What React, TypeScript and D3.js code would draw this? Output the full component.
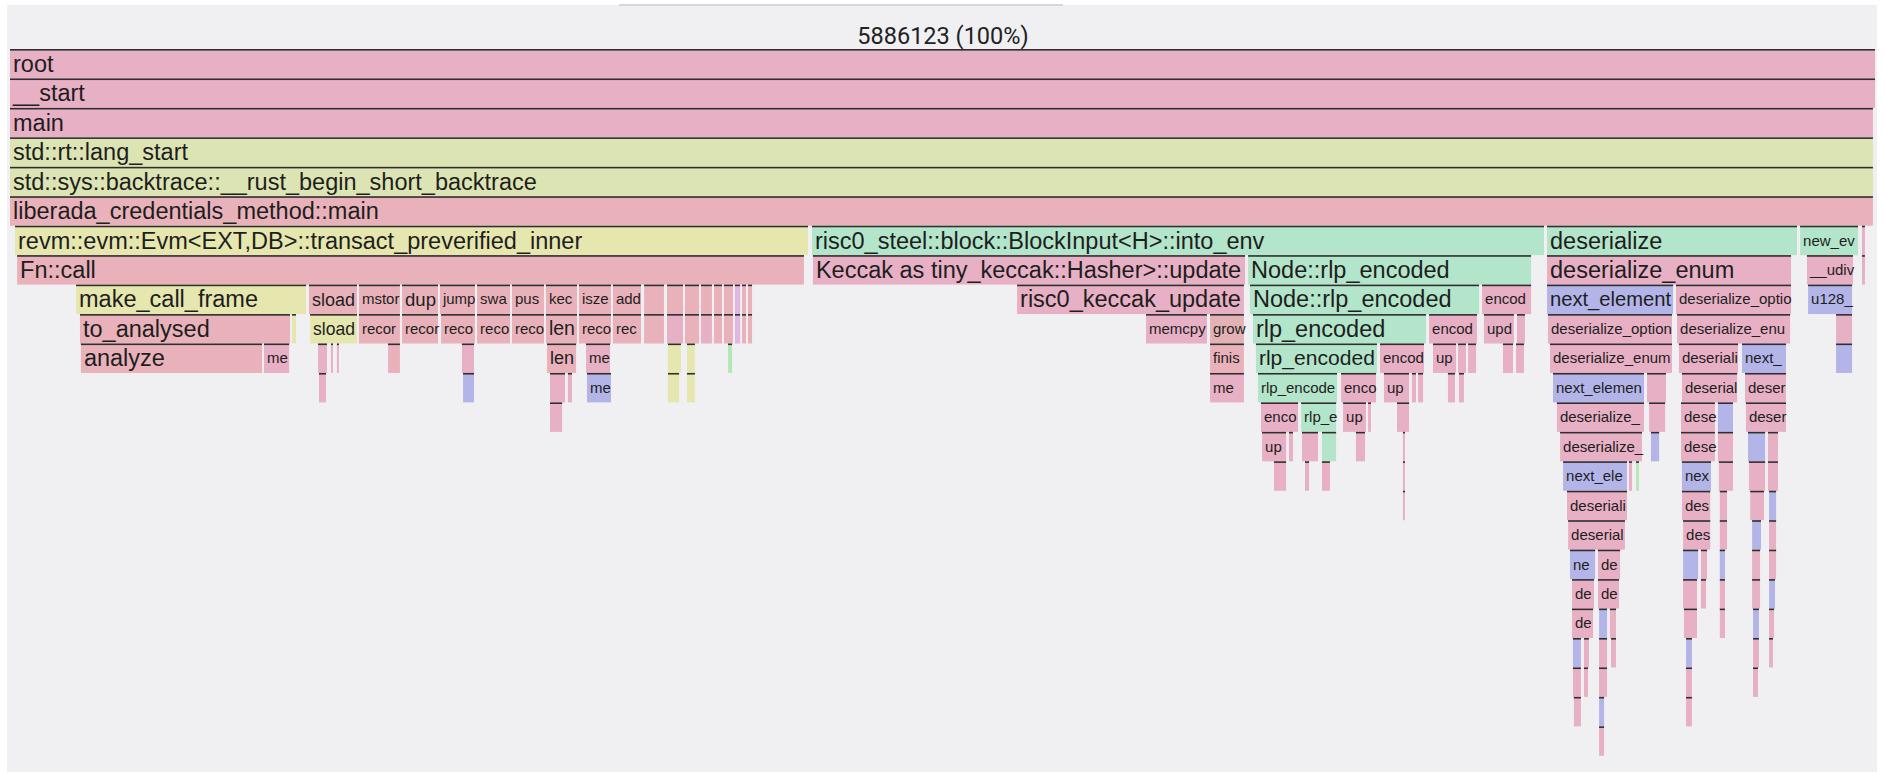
import React, {useMemo} from 'react';
import * as d3 from 'd3';

// Total samples shown in the header
const TOTAL_SAMPLES = 5886123;

// [depth, start %, end %, function name, package kind]
type Frame = [number, number, number, string, string];

const spineFrames: Frame[] = [
  [0, 0, 100, "root", "sys"],
  [1, 0, 100, "__start", "sys"],
  [2, 0, 99.89, "main", "sys"],
  [3, 0, 99.89, "std::rt::lang_start", "std"],
  [4, 0, 99.89, "std::sys::backtrace::__rust_begin_short_backtrace", "std"],
  [5, 0, 99.89, "liberada_credentials_method::main", "app"],
  [6, 0.27, 42.82, "revm::evm::Evm<EXT,DB>::transact_preverified_inner", "revm"],
  [6, 42.98, 82.26, "risc0_steel::block::BlockInput<H>::into_env", "steel"],
  [6, 82.37, 95.82, "deserialize", "steel"],
  [6, 95.93, 99.09, "new_evm_env", "steel"],
  [6, 99.25, 99.46, "alloc", "sys"],
  [7, 99.25, 99.46, "malloc", "sys"],
];

const evmFrames: Frame[] = [
  [7, 0.38, 42.60, "Fn::call", "app"],
  [8, 3.54, 15.92, "make_call_frame", "revm"],
  [8, 16.02, 18.65, "sload", "app"],
  [8, 18.70, 20.95, "mstore", "app"],
  [8, 21.01, 22.99, "dup", "app"],
  [8, 23.04, 24.97, "jump", "app"],
  [8, 25.03, 26.85, "swap", "app"],
  [8, 26.90, 28.67, "push", "app"],
  [8, 28.72, 30.44, "keccak256", "app"],
  [8, 30.49, 32.26, "iszero", "app"],
  [8, 32.31, 33.87, "address", "app"],
  [8, 33.98, 35.10, "mload", "app"],
  [8, 35.21, 36.12, "sstore", "app"],
  [8, 36.17, 36.98, "mul", "app"],
  [8, 37.03, 37.67, "sub", "app"],
  [8, 37.73, 38.21, "lt", "app"],
  [8, 38.26, 38.80, "eq", "app"],
  [8, 38.85, 39.18, "call", "misc"],
  [8, 39.23, 39.50, "and", "app"],
  [8, 39.55, 39.82, "shr", "app"],
  [9, 3.75, 15.06, "to_analysed", "app"],
  [9, 15.11, 15.38, "new", "revm"],
  [9, 16.08, 18.65, "sload", "revm"],
  [9, 18.70, 20.95, "record_cost", "app"],
  [9, 21.01, 22.99, "record_cost", "app"],
  [9, 23.10, 24.97, "record_cost", "app"],
  [9, 25.03, 26.85, "record_cost", "app"],
  [9, 26.90, 28.67, "record_cost", "app"],
  [9, 28.72, 30.44, "len", "app"],
  [9, 30.49, 32.26, "record_cost", "app"],
  [9, 32.31, 33.87, "record_cost", "app"],
  [9, 33.98, 35.10, "record_cost", "app"],
  [9, 35.21, 36.12, "record_cost", "sys"],
  [9, 36.17, 36.98, "record_cost", "app"],
  [9, 37.03, 37.67, "record_cost", "sys"],
  [9, 37.73, 38.21, "record_cost", "app"],
  [9, 38.26, 38.80, "record_cost", "app"],
  [9, 38.85, 39.18, "record_cost", "misc"],
  [9, 39.23, 39.50, "record_cost", "app"],
  [9, 39.55, 39.82, "record_cost", "app"],
  [10, 3.80, 13.56, "analyze", "app"],
  [10, 13.61, 15.01, "memcpy", "sys"],
  [10, 16.51, 17.04, "memcpy", "sys"],
  [10, 17.20, 17.36, "memset", "sys"],
  [10, 17.52, 17.68, "memmove", "sys"],
  [10, 20.26, 20.95, "memcpy", "app"],
  [10, 24.22, 24.92, "memcpy", "sys"],
  [10, 28.78, 30.39, "len", "app"],
  [10, 30.87, 32.21, "memcpy", "sys"],
  [10, 35.26, 36.01, "new", "revm"],
  [10, 36.28, 36.76, "new", "revm"],
  [10, 38.48, 38.75, "call", "lime"],
  [11, 16.56, 16.99, "memcpy", "sys"],
  [11, 24.28, 24.92, "memmove", "serde"],
  [11, 28.94, 29.80, "memcpy", "sys"],
  [11, 29.90, 30.17, "memcpy", "sys"],
  [11, 30.92, 32.26, "memmove", "serde"],
  [11, 35.26, 35.91, "alloc", "revm"],
  [11, 36.28, 36.76, "alloc", "revm"],
  [12, 28.94, 29.64, "memcpy", "sys"],
];

const keccakFrames: Frame[] = [
  [7, 43.03, 66.24, "Keccak as tiny_keccak::Hasher>::update", "sys"],
  [8, 53.97, 66.18, "risc0_keccak_update", "sys"],
  [9, 60.88, 64.20, "memcpy", "sys"],
  [9, 64.31, 66.18, "grow_one", "alloc"],
  [10, 64.31, 66.18, "finish_grow", "app"],
  [11, 64.31, 66.18, "memcpy", "sys"],
];

const rlpFrames: Frame[] = [
  [7, 66.35, 81.57, "Node::rlp_encoded", "steel"],
  [8, 66.45, 78.78, "Node::rlp_encoded", "steel"],
  [8, 78.89, 81.57, "encode_list", "sys"],
  [9, 66.61, 75.94, "rlp_encoded", "steel"],
  [9, 76.05, 78.67, "encode_list", "sys"],
  [9, 78.99, 80.65, "update", "sys"],
  [9, 80.76, 81.24, "update", "sys"],
  [10, 66.77, 73.31, "rlp_encoded", "steel"],
  [10, 73.42, 75.83, "encode_list", "sys"],
  [10, 76.26, 77.55, "update", "sys"],
  [10, 77.60, 78.08, "memcpy", "sys"],
  [10, 78.14, 78.62, "memcpy", "sys"],
  [10, 80.01, 80.60, "keccak", "sys"],
  [10, 80.71, 81.19, "keccak", "sys"],
  [11, 66.88, 71.17, "rlp_encoded", "steel"],
  [11, 71.33, 73.26, "encode_list", "sys"],
  [11, 73.63, 75.03, "update", "sys"],
  [11, 75.13, 75.40, "memcpy", "sys"],
  [11, 75.46, 75.78, "memcpy", "sys"],
  [11, 77.06, 77.49, "keccak", "sys"],
  [11, 77.65, 77.97, "keccak", "sys"],
  [12, 67.04, 69.08, "encode_list", "sys"],
  [12, 69.19, 71.12, "rlp_encoded", "steel"],
  [12, 71.44, 72.72, "update", "sys"],
  [12, 72.78, 72.99, "memcpy", "sys"],
  [12, 74.33, 75.03, "keccak", "sys"],
  [13, 67.10, 68.44, "update", "sys"],
  [13, 68.54, 68.81, "memcpy", "sys"],
  [13, 69.24, 70.15, "encode_list", "sys"],
  [13, 70.31, 71.12, "rlp_encoded", "steel"],
  [13, 72.13, 72.67, "keccak", "sys"],
  [13, 74.65, 74.81, "keccak_f", "sys"],
  [14, 67.74, 68.44, "keccak", "sys"],
  [14, 69.40, 69.67, "memcpy", "sys"],
  [14, 70.31, 70.79, "update", "sys"],
  [14, 74.65, 74.81, "keccak_f", "sys"],
  [15, 74.65, 74.81, "keccak_f", "sys"],
];

const deserializeFrames: Frame[] = [
  [7, 82.37, 95.50, "deserialize_enum", "sys"],
  [7, 96.30, 98.82, "__udivti3", "sys"],
  [8, 82.37, 89.18, "next_element", "serde"],
  [8, 89.28, 95.50, "deserialize_option", "sys"],
  [8, 96.36, 98.77, "u128_div_rem", "serde"],
  [9, 82.42, 89.12, "deserialize_option", "sys"],
  [9, 89.34, 95.45, "deserialize_enum", "sys"],
  [9, 97.86, 98.77, "div", "sys"],
  [10, 82.53, 89.12, "deserialize_enum", "sys"],
  [10, 89.44, 92.66, "deserialize_struct", "sys"],
  [10, 92.82, 95.23, "next_element", "serde"],
  [10, 97.86, 98.77, "div", "serde"],
  [11, 82.69, 87.62, "next_element", "serde"],
  [11, 87.73, 88.80, "alloc", "sys"],
  [11, 89.60, 92.61, "deserialize_option", "sys"],
  [11, 92.98, 95.23, "deserialize_enum", "sys"],
  [12, 82.90, 87.62, "deserialize_option", "sys"],
  [12, 87.84, 88.75, "alloc", "sys"],
  [12, 89.55, 91.42, "deserialize_enum", "sys"],
  [12, 91.53, 92.39, "next_element", "serde"],
  [12, 93.03, 95.23, "deserialize_option", "sys"],
  [13, 83.07, 87.51, "deserialize_enum", "sys"],
  [13, 87.94, 88.43, "next_element", "serde"],
  [13, 89.55, 91.42, "deserialize_option", "sys"],
  [13, 91.53, 92.39, "deserialize_enum", "sys"],
  [13, 93.14, 94.11, "next_element", "serde"],
  [13, 94.21, 94.80, "deserialize_enum", "sys"],
  [14, 83.23, 86.71, "next_element", "serde"],
  [14, 86.76, 86.98, "alloc", "sys"],
  [14, 87.14, 87.35, "alloc", "lime"],
  [14, 89.60, 91.21, "next_element", "serde"],
  [14, 91.58, 92.39, "deserialize_enum", "sys"],
  [14, 93.19, 94.11, "deserialize_enum", "sys"],
  [14, 94.21, 94.80, "deserialize_enum", "sys"],
  [15, 83.44, 86.71, "deserialize_option", "sys"],
  [15, 89.60, 91.17, "deserialize_option", "sys"],
  [15, 91.63, 92.07, "deserialize_enum", "sys"],
  [15, 93.26, 94.05, "deserialize_enum", "sys"],
  [15, 94.27, 94.70, "next_element", "serde"],
  [16, 83.50, 86.60, "deserialize_enum", "sys"],
  [16, 89.66, 91.17, "deserialize_enum", "sys"],
  [16, 91.63, 92.07, "deserialize_enum", "sys"],
  [16, 93.36, 93.89, "next_element", "serde"],
  [16, 94.27, 94.70, "deserialize_enum", "sys"],
  [17, 83.60, 85.00, "next_element", "serde"],
  [17, 85.10, 86.34, "deserialize_any", "sys"],
  [17, 89.66, 90.52, "next_element", "serde"],
  [17, 90.62, 91.00, "deserialize_enum", "sys"],
  [17, 91.63, 91.96, "next_element", "serde"],
  [17, 93.36, 93.84, "deserialize_enum", "sys"],
  [17, 94.27, 94.70, "deserialize_enum", "sys"],
  [18, 83.71, 84.94, "deserialize_option", "sys"],
  [18, 85.10, 86.28, "deserialize_enum", "sys"],
  [18, 89.66, 90.46, "deserialize_enum", "sys"],
  [18, 90.62, 90.94, "deserialize_enum", "sys"],
  [18, 91.63, 91.96, "deserialize_enum", "sys"],
  [18, 93.36, 93.84, "deserialize_enum", "sys"],
  [18, 94.27, 94.64, "next_element", "serde"],
  [19, 83.71, 84.89, "deserialize_enum", "sys"],
  [19, 85.16, 85.64, "next_element", "serde"],
  [19, 85.74, 86.12, "deserialize_enum", "sys"],
  [19, 89.71, 90.46, "deserialize_enum", "sys"],
  [19, 91.63, 91.96, "deserialize_enum", "sys"],
  [19, 93.41, 93.78, "next_element", "serde"],
  [19, 94.27, 94.59, "deserialize_enum", "sys"],
  [20, 83.76, 84.24, "next_element", "serde"],
  [20, 84.35, 84.67, "deserialize_enum", "sys"],
  [20, 85.16, 85.64, "deserialize_enum", "sys"],
  [20, 85.80, 86.12, "deserialize_enum", "sys"],
  [20, 89.82, 90.19, "next_element", "serde"],
  [20, 93.41, 93.78, "deserialize_enum", "sys"],
  [20, 94.27, 94.53, "deserialize_enum", "sys"],
  [21, 83.76, 84.24, "deserialize_enum", "sys"],
  [21, 84.35, 84.62, "deserialize_enum", "sys"],
  [21, 85.16, 85.64, "deserialize_enum", "sys"],
  [21, 89.82, 90.19, "deserialize_enum", "sys"],
  [21, 93.41, 93.73, "deserialize_enum", "sys"],
  [22, 83.81, 84.24, "deserialize_enum", "sys"],
  [22, 85.16, 85.48, "next_element", "serde"],
  [22, 89.82, 90.19, "deserialize_enum", "sys"],
  [23, 85.16, 85.48, "deserialize_enum", "sys"],
];

const kindColour: Record<string, string> = {
  sys: "#e8b0c4",
  app: "#e9b2ba",
  std: "#dde4b3",
  revm: "#e6e7ae",
  steel: "#b3e5cb",
  serde: "#b3b5e9",
  alloc: "#e3b2b4",
  misc: "#dfb8e2",
  lime: "#b4e7b4",
};

const WIDTH = 1884;
const HEIGHT = 774;
const ROW = 29.45;
const TOP = 49;
const LABEL_FONT = '"Liberation Sans", Arial, Helvetica, sans-serif';
const MAX_FONT = 23.5;
const MIN_FONT = 15;

let ctx: CanvasRenderingContext2D | null = null;
function textWidth(s: string, size: number) {
  if (!ctx) ctx = document.createElement('canvas').getContext('2d');
  ctx!.font = `${size}px ${LABEL_FONT}`;
  return ctx!.measureText(s).width;
}

// Pick a font size that fits the frame, then cut the name down to what fits at that size
function fitLabel(name: string, w: number) {
  const avail = w - 6;
  const full = textWidth(name, MAX_FONT);
  let size = MAX_FONT;
  if (full > avail) size = Math.max(MIN_FONT, MAX_FONT * avail / full);
  let text = name;
  while (text.length > 1 && textWidth(text, size) > w - 2) text = text.slice(0, -1);
  return {text, size};
}

export default function App() {
  const frames = useMemo(() => [...spineFrames, ...evmFrames, ...keccakFrames, ...rlpFrames, ...deserializeFrames], []);

  const x = d3.scaleLinear().domain([0, 100]).range([10, 1876]);
  const y = d3.scaleLinear().domain([0, 1]).range([TOP, TOP + ROW]);

  return (
    <svg width={WIDTH} height={HEIGHT} style={{position: 'absolute', left: 0, top: 0, background: '#fff'}}>
      <rect x={7} y={5} width={1870} height={767} fill="#f0eff2"/>
      <rect x={619} y={4} width={444} height={2} fill="#d7d7da"/>
      <text x={943} y={44} textAnchor="middle" fontFamily="Roboto, sans-serif" fontSize={23.5} fill="#222">
        {`${TOTAL_SAMPLES} (100%)`}
      </text>
      {frames.map(([depth, s, e, name, kind], i) => {
        const x0 = x(s);
        const w = x(e) - x0;
        const top = y(depth);
        const bw = Math.max(w - 1, 1);
        let label = null;
        if (w >= 21.5) {
          const {text, size} = fitLabel(name, w);
          label = (
            <text x={x0 + 3} y={top + 14.7 + 0.345 * size} fontFamily={LABEL_FONT} fontSize={size}
                  fill="#1e1e1e">{text}</text>
          );
        }
        return (
          <g key={i}>
            <rect x={x0} y={top} width={bw} height={ROW} fill={kindColour[kind]}/>
            <rect x={x0} y={top} width={bw} height={1.6} fill="#2f2f2f"/>
            {label}
          </g>
        );
      })}
    </svg>
  );
}
